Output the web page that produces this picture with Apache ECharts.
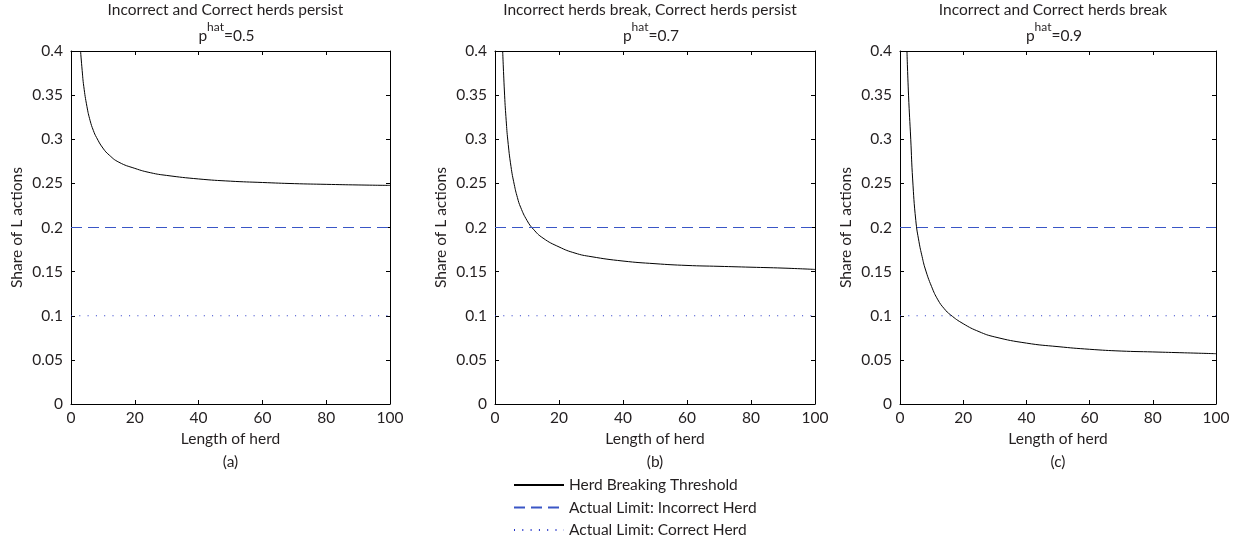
<!DOCTYPE html>
<html>
<head>
<meta charset="utf-8">
<title>Herd breaking threshold</title>
<script src="https://cdn.jsdelivr.net/npm/echarts@6/dist/echarts.min.js"></script>
<style>
  html, body { margin: 0; padding: 0; background: #fff; }
  #chart { width: 1238px; height: 543px; }
</style>
</head>
<body>
<div id="chart"></div>
<script>
// values
var panelTitles = ["Incorrect and Correct herds persist", "Incorrect herds break, Correct herds persist", "Incorrect and Correct herds break"];
var pHat = ["0.5", "0.7", "0.9"];
var panelTags = ["(a)", "(b)", "(c)"];

var herdLenA = [3, 3.5, 4, 5, 6, 7, 8, 10, 12, 15, 20, 25, 30, 40, 50, 60, 70, 80, 90, 100];
var thresholdA = [0.400, 0.378, 0.360, 0.337, 0.321, 0.310, 0.302, 0.290, 0.282, 0.274, 0.267, 0.262, 0.259, 0.255, 0.2525, 0.251, 0.2497, 0.2489, 0.2482, 0.2477];

var herdLenB = [2.4, 3, 3.5, 4, 5, 6, 7, 8, 10, 12, 15, 20, 25, 30, 40, 50, 60, 70, 80, 90, 100];
var thresholdB = [0.400, 0.350, 0.321, 0.299, 0.269, 0.249, 0.234, 0.223, 0.208, 0.198, 0.188, 0.178, 0.171, 0.167, 0.162, 0.159, 0.157, 0.156, 0.155, 0.154, 0.1525];

var herdLenC = [2.2, 2.7, 3.4, 4, 5, 6, 7, 8, 10, 12, 14, 16, 20, 25, 30, 40, 50, 60, 70, 80, 90, 100];
var thresholdC = [0.400, 0.350, 0.300, 0.255, 0.208, 0.184, 0.167, 0.153, 0.133, 0.118, 0.108, 0.101, 0.091, 0.082, 0.076, 0.069, 0.065, 0.062, 0.060, 0.059, 0.058, 0.057];

var limitX = [0, 100];
var incorrectLimit = [0.2, 0.2];
var correctLimit = [0.1, 0.1];

var xTicks = { min: 0, max: 100, interval: 20 };
var yTicks = { min: 0, max: 0.4, interval: 0.05 };

var FONT = "Lato";
var FS = 15.5;
var INK = "#231f20";

var chart = echarts.init(document.getElementById("chart"));

var grids = [
  { left: 71, top: 51, width: 319, height: 353 },
  { left: 495, top: 51, width: 320, height: 353 },
  { left: 900, top: 51, width: 316, height: 353 }
];

function pairs(xs, ys) {
  return xs.map(function (x, i) { return [x, ys[i]]; });
}

var curves = [pairs(herdLenA, thresholdA), pairs(herdLenB, thresholdB), pairs(herdLenC, thresholdC)];

var xAxis = [], yAxis = [], series = [], titles = [];

grids.forEach(function (g, i) {
  var cx = g.left + g.width / 2;
  var tick = { show: true, inside: true, length: 4, lineStyle: { color: "#000", width: 1 } };
  var line = { show: true, onZero: false, lineStyle: { color: "#000", width: 1 } };

  xAxis.push({
    type: "value", gridIndex: i, position: "bottom",
    min: xTicks.min, max: xTicks.max, interval: xTicks.interval,
    axisLine: line, axisTick: tick, splitLine: { show: false },
    axisLabel: { color: INK, fontFamily: FONT, fontSize: FS, margin: 6 },
    name: "Length of herd", nameLocation: "middle", nameGap: 26,
    nameTextStyle: { color: INK, fontFamily: FONT, fontSize: FS }
  });
  xAxis.push({
    type: "value", gridIndex: i, position: "top",
    min: xTicks.min, max: xTicks.max, interval: xTicks.interval,
    axisLine: line, axisTick: tick, splitLine: { show: false },
    axisLabel: { show: false }
  });
  yAxis.push({
    type: "value", gridIndex: i, position: "left",
    min: yTicks.min, max: yTicks.max, interval: yTicks.interval,
    axisLine: line, axisTick: tick, splitLine: { show: false },
    axisLabel: { color: INK, fontFamily: FONT, fontSize: FS, margin: 8 },
    name: "Share of L actions", nameLocation: "middle", nameGap: 46, nameRotate: 90,
    nameTextStyle: { color: INK, fontFamily: FONT, fontSize: FS }
  });
  yAxis.push({
    type: "value", gridIndex: i, position: "right",
    min: yTicks.min, max: yTicks.max, interval: yTicks.interval,
    axisLine: line, axisTick: tick, splitLine: { show: false },
    axisLabel: { show: false }
  });

  series.push({
    name: "Herd Breaking Threshold", type: "line",
    xAxisIndex: 2 * i, yAxisIndex: 2 * i,
    data: curves[i], smooth: 0.5,
    symbol: "none", lineStyle: { color: "#000", width: 1 }, itemStyle: { color: "#000" },
    z: 3
  });
  series.push({
    name: "Actual Limit: Incorrect Herd", type: "line",
    xAxisIndex: 2 * i, yAxisIndex: 2 * i,
    data: pairs(limitX, incorrectLimit),
    symbol: "none", lineStyle: { color: "#3a56c6", width: 1.1, type: [11, 6] }, itemStyle: { color: "#3a56c6" }
  });
  series.push({
    name: "Actual Limit: Correct Herd", type: "line",
    xAxisIndex: 2 * i, yAxisIndex: 2 * i,
    data: pairs(limitX, correctLimit),
    symbol: "none", lineStyle: { color: "#2233c8", width: 1, type: [1, 7.3] }, itemStyle: { color: "#2233c8" }
  });

  titles.push({
    text: panelTitles[i], left: cx - 5, top: 2, textAlign: "center", padding: 0,
    textStyle: { color: INK, fontFamily: FONT, fontSize: FS, fontWeight: "normal" }
  });
  titles.push({
    text: "{a|p}{s|hat}{a|=" + pHat[i] + "}", left: cx - 4, top: 21, textAlign: "center", padding: 0,
    textStyle: {
      fontWeight: "normal",
      rich: {
        a: { color: INK, fontFamily: FONT, fontSize: FS, fontWeight: "normal", lineHeight: 23, verticalAlign: "bottom" },
        s: { color: INK, fontFamily: FONT, fontSize: 12, fontWeight: "normal", lineHeight: 11, verticalAlign: "top" }
      }
    }
  });
  titles.push({
    text: panelTags[i], left: cx, top: 454, textAlign: "center", padding: 0,
    textStyle: { color: INK, fontFamily: FONT, fontSize: FS, fontWeight: "normal" }
  });
});

chart.setOption({
  animation: false,
  backgroundColor: "#fff",
  title: titles,
  grid: grids,
  xAxis: xAxis,
  yAxis: yAxis,
  legend: {
    orient: "vertical", left: 513, top: 477, padding: 0,
    itemWidth: 50, itemHeight: 14, itemGap: 6.5,
    itemStyle: { opacity: 0 },
    textStyle: { color: INK, fontFamily: FONT, fontSize: FS, lineHeight: 16 },
    data: ["Herd Breaking Threshold", "Actual Limit: Incorrect Herd", "Actual Limit: Correct Herd"]
  },
  series: series
});
</script>
</body>
</html>
